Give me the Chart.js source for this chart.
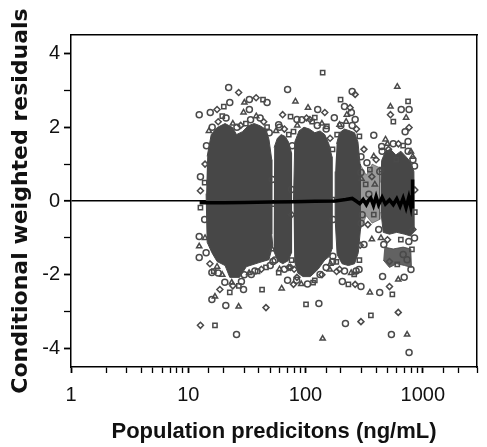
<!DOCTYPE html>
<html>
<head>
<meta charset="utf-8">
<script src="https://cdn.jsdelivr.net/npm/chart.js@4.4.1/dist/chart.umd.min.js"></script>
<style>
  html, body { margin: 0; padding: 0; background: #fff; }
  canvas { display: block; }
</style>
</head>
<body>
<canvas id="cwres" width="487" height="447"></canvas>
<script>
// axis ticks
const xTickLabels = [1, 10, 100, 1000];
const yTickValues = [-4, -3, -2, -1, 0, 1, 2, 3, 4];
const yTickLabels = [-4, -2, 0, 2, 4];

// overplotted (solid grey) part of each PRED cluster, outline  [PRED, CWRES]
const coreA = [[14.5,1.21],[15.7,1.80],[17.6,1.99],[20.6,2.10],[23.9,1.99],[25.8,1.80],[29.0,1.88],[32.5,2.04],[36.5,2.10],[40.9,2.04],[46.0,1.94],[48.8,1.67],[51.5,1.12],[51.5,-0.9],[52.5,-1.2],[48.8,-1.59],[40.2,-1.67],[31.3,-1.78],[27.4,-2.07],[22.6,-2.07],[20.6,-1.75],[17.6,-1.64],[15.9,-1.40],[14.5,-1.12],[14.2,0.2]];
const coreB = [[54,1.45],[57.5,1.70],[62,1.80],[67,1.75],[71.6,1.60],[76,1.30],[76,-1.40],[71,-1.62],[64,-1.70],[58,-1.62],[53.5,-1.35]];
const coreC = [[79,0],[81,1.60],[88,1.90],[97,2.00],[108,1.95],[120,1.85],[133,1.90],[146,1.80],[158,1.55],[168,1.20],[168,-1.30],[160,-1.50],[146,-1.60],[128,-1.85],[110,-2.05],[95,-2.05],[86,-1.95],[80,-1.60]];
const coreD = [[184,1.55],[195,1.85],[215,1.95],[240,1.90],[262,1.85],[280,1.60],[292,1.0],[295,0.2],[292,-0.8],[282,-1.40],[262,-1.70],[232,-1.75],[205,-1.70],[186,-1.45],[179,-0.5],[179,0.8]];
const coreGap = [[292,1.0],[330,0.7],[370,1.0],[430,0.9],[430,-0.5],[370,-0.6],[330,-0.4],[292,-0.8]];
const coreE = [[440,0.5],[446,1.10],[481,1.35],[530,1.40],[590,1.25],[650,1.35],[720,1.20],[790,1.05],[840,0.80],[845,-0.80],[790,-0.95],[700,-0.90],[600,-0.85],[520,-0.90],[460,-0.85],[440,-0.3]];
const coreE2 = [[470,-1.25],[560,-1.30],[680,-1.25],[790,-1.30],[800,-1.80],[700,-1.75],[600,-1.70],[520,-1.80],[460,-1.60]];

// individually visible observations
const ptsUpper = [[22.1,3.08],[26.9,2.94],[140,3.48],[70.3,3.02],[606,3.10],[250,2.97],[265,2.89],[199,2.75],[12.4,2.34],[82,2.70],[382,1.78],[764,1.99],[749,2.70],[764,2.48],[530,2.56],[15.4,2.40],[17.6,2.48],[20.1,2.56],[22.6,2.67],[30.1,2.67],[33.2,2.75],[37.9,2.80],[43.4,2.75],[47,2.67],[29.6,2.40],[33.2,2.48],[63.8,2.34],[74.5,2.29],[84.5,2.21],[105,2.53],[127,2.48],[146,2.40],[152,2.02],[215,2.56],[225,2.34],[246,2.40],[530,2.34],[561,2.15],[655,2.48],[721,2.26],[707,1.88],[109,2.21],[120,2.26],[176,2.26],[195,2.07],[265,2.21],[240,2.53],[79,1.88],[59,2.07]];
const ptsMiddle = [[446,1.48],[510,1.40],[594,1.12],[334,1.04],[382,1.21],[297,0.77],[368,0.66],[446,0.85],[749,1.61],[793,1.34],[12.7,0.66],[12.7,0.28],[12.7,-0.18],[12.4,-0.96],[12.4,-1.23],[12.4,-1.53],[315,1.40],[326,0.45],[347,0.18],[390,0.45],[304,-0.37],[340,-0.64],[382,-0.37],[421,-0.77],[368,-1.04],[315,-1.18],[400,1.12],[354,0.85],[465,-1.18],[481,1.67],[824,1.12],[824,-0.77],[808,-1.31],[51.9,0.58],[52.8,-0.1],[76,0.31],[76,-0.37],[170,0.04],[172,-0.5]];
const ptsLower = [[793,-1.86],[12.7,-3.37],[16.9,-3.37],[25.8,-3.62],[140,-3.73],[219,-3.32],[297,-3.27],[361,-3.10],[540,-3.62],[735,-3.62],[764,-4.11],[618,-3.02],[101,-2.80],[130,-2.78],[26.9,-2.86],[20.9,-2.83],[46.0,-2.89],[42.6,-2.40],[29.6,-2.40],[62.6,-2.37],[70.3,-2.15],[84.5,-2.07],[59.1,-1.94],[297,-2.32],[354,-2.48],[429,-2.48],[520,-2.32],[550,-2.53],[694,-2.07],[618,-2.13],[454,-2.05],[265,-2.26],[232,-2.26],[206,-2.18],[16.9,-2.59],[15.9,-2.67],[18.6,-2.40],[22.6,-2.48],[15.9,-1.94],[17.6,-1.78],[735,-1.59],[520,-1.64],[606,-1.72],[680,-1.45],[51.9,-1.31],[52.8,-1.64],[74.5,-1.80],[39,-1.91],[34.5,-1.99],[23.5,-2.21],[28.4,-2.18],[79,-2.26],[116,-2.21],[133,-1.99],[161,-1.86],[170,-1.64],[184,-1.91],[260,-1.99],[286,-1.86]];
// observations on the ragged rim of the solid clusters
const ptsRim = [[16,2.0],[18,2.15],[19.5,2.3],[21,2.25],[24,2.1],[26,2.0],[28,2.05],[31,2.1],[34,2.2],[38,2.3],[41,2.25],[44,2.15],[47,2.0],[49,1.85],[15,1.9],[14.3,1.5],[13.9,1.0],[13.8,0.5],[13.8,-0.5],[13.9,-1.0],[14.2,-1.4],[15.3,-1.7],[16.5,-1.9],[18,-1.95],[19.5,-2.0],[20.5,-2.2],[24,-2.3],[27,-2.3],[30,-2.0],[33,-1.95],[37,-1.9],[42,-1.85],[46,-1.8],[50,-1.75],
  [56,1.9],[60,2.0],[66,1.95],[72,1.8],[55,-1.6],[60,-1.85],[66,-1.85],[72,-1.8],[76,-1.6],[77,1.5],
  [85,2.05],[93,2.2],[102,2.25],[114,2.15],[126,2.05],[138,2.1],[150,1.95],[162,1.7],[170,1.4],[171,-1.5],[163,-1.7],[150,-1.8],[138,-2.0],[120,-2.15],[104,-2.25],[92,-2.25],[84,-2.15],[80,-1.85],
  [186,1.8],[200,2.05],[222,2.15],[250,2.05],[272,1.95],[288,1.75],[297,1.2],[300,0.6],[298,-0.6],[293,-1.2],[288,-1.6],[270,-1.9],[245,-1.95],[215,-1.9],[195,-1.85],[183,-1.65],
  [450,1.35],[500,1.55],[560,1.55],[620,1.55],[680,1.5],[750,1.35],[820,1.2],[850,0.95],[855,0.3],[855,-0.3],[850,-1.0],[440,-1.0],[430,0.8],[500,-1.05],[650,-1.05],[760,-1.1]];

// smooth of CWRES vs PRED
const trend = [[12.5,-0.05],[20,-0.05],[30,-0.04],[50,-0.03],[80,-0.02],[120,-0.01],[180,0.0],[220,0.04],[250,0.07],[270,0.0],[290,-0.07],[310,0.04],[330,-0.1],[345,0.02],[360,0.08],[380,-0.12],[400,0.12],[420,-0.1],[450,0.1],[480,-0.08],[520,0.03],[560,-0.1],[600,0.06],[640,-0.14],[680,0.08],[720,-0.18],[760,0.1],[790,-0.15],[810,0.15],[815,-0.2],[822,0.58]];

const toXY = arr => arr.map(([x, y]) => ({ x, y }));
const shapes = ['circle', 'rectRot', 'rect', 'circle', 'triangle'];
const tickFont = { family: "'Liberation Sans', Arial, sans-serif", size: 20 };

function core(arr, alpha) {
  const c = `rgba(71,71,71,${alpha})`;
  return { type: 'scatter', data: toXY(arr), showLine: true, fill: 'shape', tension: 0,
    backgroundColor: c, borderColor: c, borderWidth: 1, pointRadius: 0, order: 3 };
}
function scatter(arr) {
  return { type: 'scatter', data: toXY(arr), pointRadius: 3, borderWidth: 1.5,
    pointStyle: ctx => shapes[ctx.dataIndex % shapes.length],
    borderColor: '#4a4a4a', backgroundColor: 'rgba(255,255,255,0)', order: 2 };
}

new Chart(document.getElementById('cwres'), {
  type: 'scatter',
  data: {
    datasets: [
      { type: 'line', data: toXY(trend), borderColor: '#000', borderWidth: 3.5, pointRadius: 0, tension: 0, fill: false, order: 0 },
      scatter(ptsUpper), scatter(ptsMiddle), scatter(ptsLower), scatter(ptsRim),
      core(coreA, 1), core(coreB, 1), core(coreC, 1), core(coreD, 1),
      core(coreGap, 0.55), core(coreE, 1), core(coreE2, 0.85)
    ]
  },
  options: {
    responsive: false,
    animation: false,
    layout: { padding: { top: 35, right: 2, bottom: 0, left: 0 } },
    plugins: { legend: { display: false }, tooltip: { enabled: false } },
    scales: {
      x: {
        type: 'logarithmic', position: 'bottom', min: 1, max: 2900,
        ticks: { autoSkip: false, maxRotation: 0, padding: 10, color: '#111', font: tickFont,
          callback: v => xTickLabels.includes(v) ? String(v) : '' },
        grid: { drawOnChartArea: false, tickColor: '#000', tickLength: 6,
          tickWidth: c => xTickLabels.includes(c.tick && c.tick.value) ? 1.8 : 1.3 },
        border: { color: '#000', width: 1.5 },
        title: { display: true, text: 'Population predicitons (ng/mL)', color: '#111',
          font: { family: "'Liberation Sans', Arial, sans-serif", size: 22, weight: 'bold' },
          padding: { top: 0, bottom: 2 } },
        afterFit: s => { s.height = 80; }
      },
      y: {
        type: 'linear', position: 'left', min: -4.5, max: 4.5,
        afterBuildTicks: s => { s.ticks = yTickValues.map(value => ({ value })); },
        ticks: { padding: 4, color: '#111', font: tickFont,
          callback: v => yTickLabels.includes(v) ? String(v) : '' },
        grid: {
          color: c => c.tick && c.tick.value === 0 ? '#000' : 'rgba(0,0,0,0)',
          lineWidth: c => c.tick && c.tick.value === 0 ? 1.6 : 1,
          tickColor: '#000', tickLength: 7,
          tickWidth: c => yTickLabels.includes(c.tick && c.tick.value) ? 1.8 : 1.3
        },
        border: { color: '#000', width: 1.5 },
        title: { display: true, text: 'Conditional weighted residuals', color: '#111',
          font: { family: "'DejaVu Sans', sans-serif", size: 22, weight: 'bold' },
          padding: { top: 8, bottom: 0 } },
        afterFit: s => { s.width = 71; }
      },
      x2: {
        type: 'linear', position: 'top', ticks: { display: false },
        grid: { drawOnChartArea: false, drawTicks: false },
        border: { color: '#000', width: 1.5 },
        afterFit: s => { s.height = 0; }
      },
      y2: {
        type: 'linear', position: 'right', ticks: { display: false },
        grid: { drawOnChartArea: false, drawTicks: false },
        border: { color: '#000', width: 1.5 },
        afterFit: s => { s.width = 0; }
      }
    }
  }
});
</script>
</body>
</html>
